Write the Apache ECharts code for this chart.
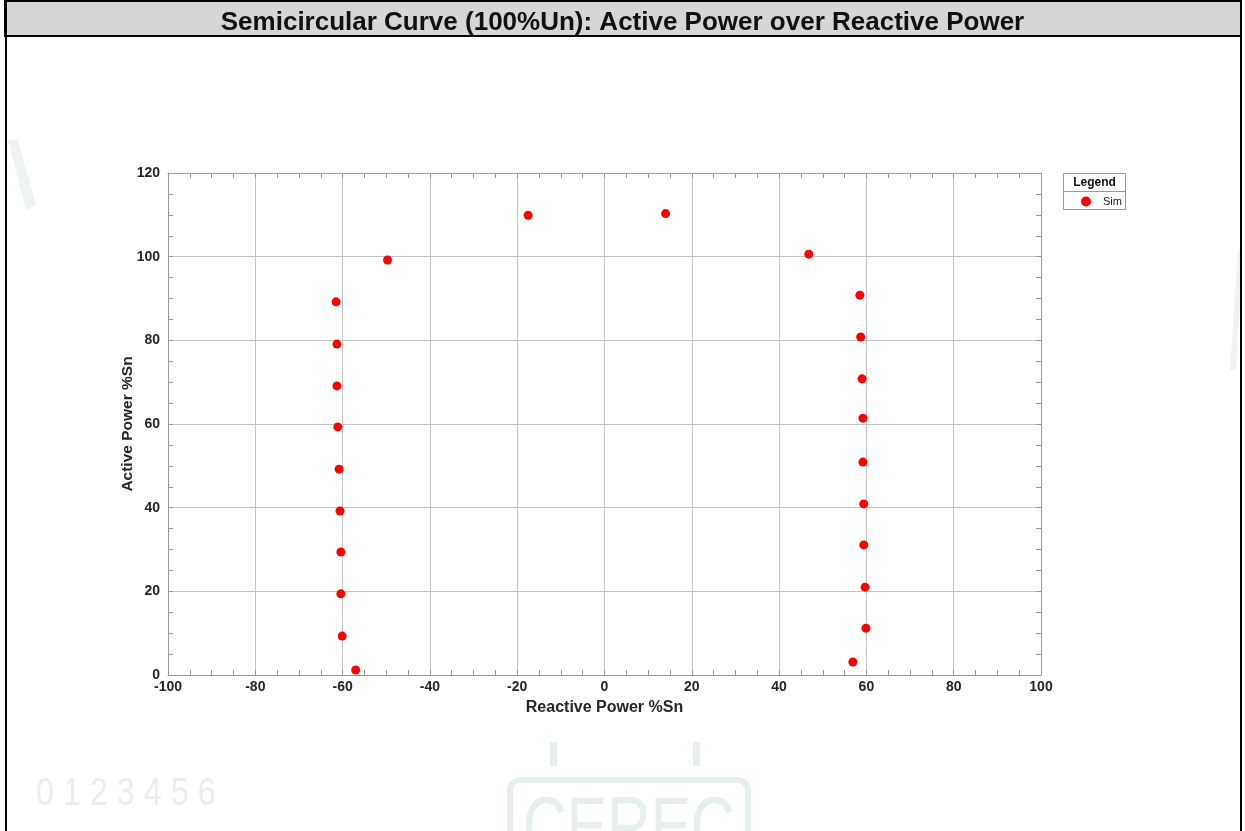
<!DOCTYPE html>
<html>
<head>
<meta charset="utf-8">
<script src="https://cdn.jsdelivr.net/npm/echarts@6/dist/echarts.min.js"></script>
<style>
html,body{margin:0;padding:0;background:#fff;}
#chart{width:1245px;height:831px;}
</style>
</head>
<body>
<div id="chart"></div>
<script>
// Data
const titleText = 'Semicircular Curve (100%Un): Active Power over Reactive Power';
const seriesName = 'Sim';
const reactivePower = [-61.5, -61.3, -61.3, -61.1, -60.8, -60.6, -60.4, -60.4, -60.1, -57.0, -49.7, -17.5, 14.0, 46.8, 58.5, 58.7, 59.0, 59.2, 59.2, 59.4, 59.4, 59.7, 59.9, 56.9];
const activePower   = [89.2, 79.1, 69.1, 59.3, 49.2, 39.2, 29.4, 19.4, 9.3, 1.2, 99.2, 109.9, 110.3, 100.6, 90.8, 80.8, 70.8, 61.4, 50.9, 40.9, 31.1, 21.0, 11.2, 3.1];
const xTicks = {min: -100, max: 100, interval: 20};
const yTicks = {min: 0, max: 120, interval: 20};
const xName = 'Reactive Power %Sn';
const yName = 'Active Power %Sn';

const points = reactivePower.map((x, i) => [x, activePower[i]]);

const FONT = '"Liberation Sans", Arial, sans-serif';
const wm = '#e6efee';

const chart = echarts.init(document.getElementById('chart'), null, {renderer: 'canvas'});

function boxAxis(extra) {
  return Object.assign({
    axisLine: {show: true, onZero: false, lineStyle: {color: '#9a9a9a', width: 1}},
    axisTick: {show: true, inside: true, length: 5, lineStyle: {color: '#9a9a9a'}},
    minorTick: {show: true, splitNumber: 4, length: 5, lineStyle: {color: '#9a9a9a'}},
  }, extra);
}

chart.setOption({
  backgroundColor: '#ffffff',
  animation: false,
  title: {
    text: titleText,
    left: 'center',
    top: 5,
    textStyle: {fontFamily: FONT, fontSize: 26, fontWeight: 'bold', color: '#111'}
  },
  legend: {
    data: [seriesName],
    left: 1076,
    top: 191,
    z: 10,
    itemWidth: 10,
    itemHeight: 10,
    icon: 'circle',
    textStyle: {fontFamily: FONT, fontSize: 11, color: '#222', padding: [0, 0, 0, 7]}
  },
  graphic: [
    // faint watermark
    {type: 'text', left: 36, top: 776, z: -10, style: {text: '0 1 2 3 4 5 6', font: '38px "Liberation Sans", sans-serif', fill: '#ededed'}, scaleX: 0.85},
    {type: 'rect', z: -10, shape: {x: 510, y: 780, width: 238, height: 80, r: 10}, style: {fill: 'none', stroke: wm, lineWidth: 6}},
    {type: 'text', x: 523, y: 790, z: -10, scaleX: 0.72, style: {text: 'CEREC', font: '84px "Liberation Sans", sans-serif', fill: wm}},
    {type: 'rect', z: -10, shape: {x: 550, y: 742, width: 7, height: 24}, style: {fill: wm}},
    {type: 'rect', z: -10, shape: {x: 693, y: 742, width: 7, height: 24}, style: {fill: wm}},
    {type: 'polygon', z: -10, shape: {points: [[8, 140], [18, 140], [36, 205], [26, 210]]}, style: {fill: '#eef4f3'}},
    {type: 'polygon', z: -10, shape: {points: [[1238, 250], [1243, 250], [1236, 370], [1230, 370]]}, style: {fill: '#eef4f3'}},
    // title bar
    {type: 'rect', z: -5, shape: {x: 5, y: 1, width: 1236, height: 35}, style: {fill: '#d6d6d6', stroke: '#000', lineWidth: 2}},
    // outer frame
    {type: 'line', z: 100, shape: {x1: 6, y1: 0, x2: 6, y2: 831}, style: {stroke: '#000', lineWidth: 2}},
    {type: 'line', z: 100, shape: {x1: 1241, y1: 0, x2: 1241, y2: 831}, style: {stroke: '#000', lineWidth: 2}},
    // legend box
    {type: 'rect', z: 1, shape: {x: 1063.5, y: 173.5, width: 62, height: 36}, style: {fill: '#fff', stroke: '#9a9a9a', lineWidth: 1}},
    {type: 'line', z: 2, shape: {x1: 1064, y1: 191.5, x2: 1125, y2: 191.5}, style: {stroke: '#9a9a9a', lineWidth: 1}},
    {type: 'text', z: 2, x: 1094.5, y: 183, style: {text: 'Legend', font: 'bold 12px "Liberation Sans", Arial, sans-serif', fill: '#111', align: 'center', verticalAlign: 'middle'}}
  ],
  grid: {left: 168, right: 204, top: 173, bottom: 156, containLabel: false},
  xAxis: [
    boxAxis({
      type: 'value', position: 'bottom',
      min: xTicks.min, max: xTicks.max, interval: xTicks.interval,
      name: xName, nameLocation: 'middle', nameGap: 25, nameMoveOverlap: false,
      nameTextStyle: {fontFamily: FONT, fontSize: 16, fontWeight: 'bold', color: '#262626'},
      axisLabel: {fontFamily: FONT, fontSize: 14, fontWeight: 'bold', color: '#262626', margin: 5},
      splitLine: {show: true, lineStyle: {color: '#c4c4c4', width: 1}}
    }),
    boxAxis({
      type: 'value', position: 'top',
      min: xTicks.min, max: xTicks.max, interval: xTicks.interval,
      axisLabel: {show: false}, splitLine: {show: false}
    })
  ],
  yAxis: [
    boxAxis({
      type: 'value', position: 'left',
      min: yTicks.min, max: yTicks.max, interval: yTicks.interval,
      name: yName, nameLocation: 'middle', nameGap: 32, nameMoveOverlap: false,
      nameTextStyle: {fontFamily: FONT, fontSize: 15.5, fontWeight: 'bold', color: '#262626'},
      axisLabel: {fontFamily: FONT, fontSize: 14, fontWeight: 'bold', color: '#262626', margin: 8},
      splitLine: {show: true, lineStyle: {color: '#c4c4c4', width: 1}}
    }),
    boxAxis({
      type: 'value', position: 'right',
      min: yTicks.min, max: yTicks.max, interval: yTicks.interval,
      axisLabel: {show: false}, splitLine: {show: false}
    })
  ],
  series: [{
    name: seriesName,
    type: 'scatter',
    data: points,
    symbol: 'circle',
    symbolSize: 9,
    itemStyle: {color: '#ff0000', opacity: 1},
    z: 10
  }]
});
</script>
</body>
</html>
